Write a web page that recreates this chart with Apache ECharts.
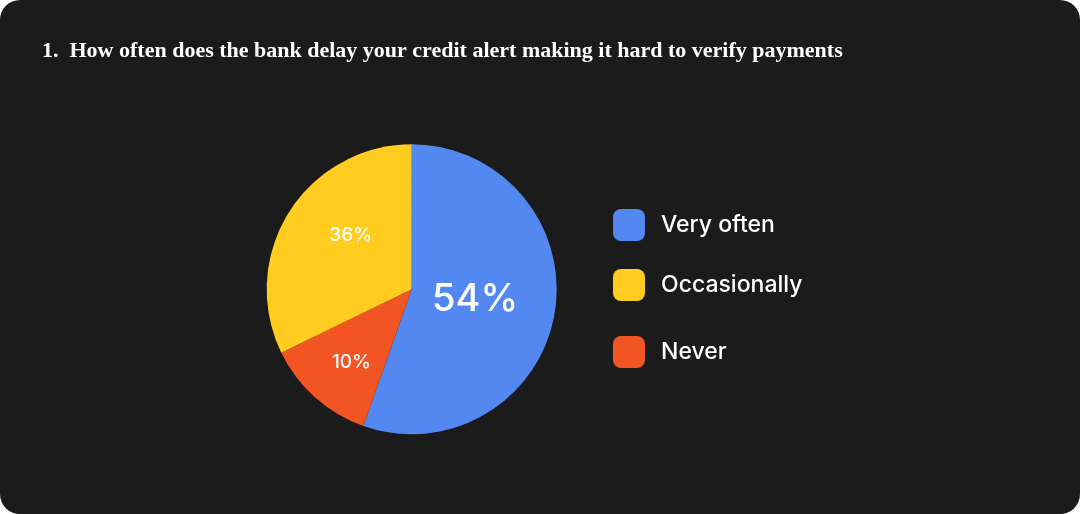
<!DOCTYPE html>
<html>
<head>
<meta charset="utf-8">
<style>
  html, body { margin: 0; padding: 0; background: #ffffff; }
  #chart { width: 1080px; height: 514px; background: #1b1b1b; border-radius: 20px; overflow: hidden; }
</style>
<script src="https://cdn.jsdelivr.net/npm/echarts@6/dist/echarts.min.js"></script>
</head>
<body>
<div id="chart"></div>
<script>
const titleText = '1.  How often does the bank delay your credit alert making it hard to verify payments';
const categories = ['Very often', 'Never', 'Occasionally'];
const sliceValues = [55.4, 12.4, 32.2];
const sliceLabels = ['54%', '10%', '36%'];
const sliceColors = ['#5288F0', '#F25424', '#FFCC1F'];
const labelSizes = [38, 19, 19];
const labelShift = [[-11, -2], [-10, 17], [3, -14]];

const chart = echarts.init(document.getElementById('chart'));
const sansFont = 'Inter, Roboto, sans-serif';

const legendCommon = {
  orient: 'vertical',
  left: 608,
  icon: 'roundRect',
  itemWidth: 32,
  itemHeight: 32,
  itemGap: 28,
  textStyle: { color: '#ffffff', fontSize: 23, fontFamily: sansFont, fontWeight: 500, padding: [0, 0, 0, 11] }
};

chart.setOption({
  backgroundColor: 'transparent',
  title: {
    text: titleText,
    left: 37,
    top: 35,
    textStyle: { color: '#ffffff', fontFamily: '"Liberation Serif", serif', fontWeight: 'bold', fontSize: 22 }
  },
  legend: [
    Object.assign({}, legendCommon, { top: 204, data: ['Very often', 'Occasionally'] }),
    Object.assign({}, legendCommon, { top: 331, data: ['Never'] })
  ],
  series: [{
    type: 'pie',
    center: [411.7, 289.3],
    radius: 145,
    startAngle: 90,
    clockwise: true,
    silent: true,
    label: {
      show: true,
      position: 'inside',
      color: '#ffffff',
      fontFamily: sansFont,
      fontWeight: 500
    },
    labelLayout: function (p) {
      return { dx: labelShift[p.dataIndex][0], dy: labelShift[p.dataIndex][1] };
    },
    labelLine: { show: false },
    itemStyle: { borderWidth: 0 },
    data: categories.map((c, i) => ({
      name: c,
      value: sliceValues[i],
      itemStyle: { color: sliceColors[i] },
      label: { formatter: sliceLabels[i], fontSize: labelSizes[i] }
    }))
  }]
});
</script>
</body>
</html>
